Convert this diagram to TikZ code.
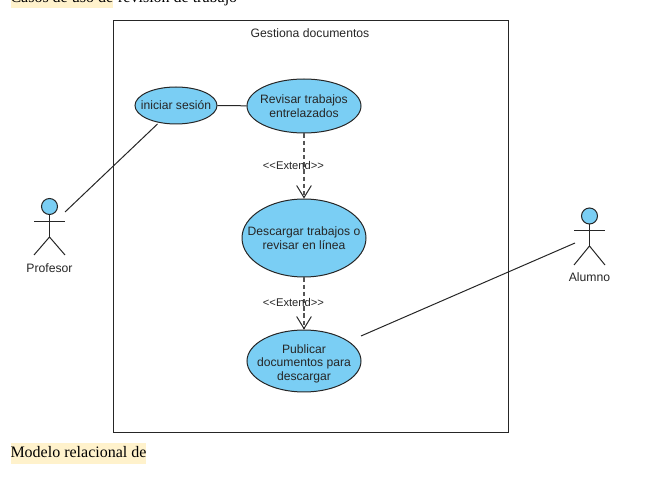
\documentclass[tikz,border=0pt]{standalone}
\usepackage{fontspec}
\setmainfont{Liberation Serif}
\newfontfamily\umlfont{Liberation Sans}
\usetikzlibrary{arrows.meta,shapes.geometric}
\definecolor{usecasefill}{HTML}{7ACEF4}
\definecolor{markfill}{HTML}{FFF2CC}
\definecolor{umlline}{HTML}{262626}
\definecolor{dashline}{HTML}{555555}
\tikzset{
  usecase/.style={draw=umlline,ellipse,fill=usecasefill,inner ysep=0pt,inner xsep=-16pt,align=center,text=umlline,font=\umlfont\fontsize{9.1}{10.3}\selectfont},
  umltext/.style={inner sep=0pt,text=umlline,font=\umlfont\fontsize{9.15}{11}\selectfont},
  smalltext/.style={inner sep=0pt,text=umlline,font=\umlfont\fontsize{8.4}{10}\selectfont},
  pagetext/.style={inner sep=0pt,anchor=base west,font=\fontsize{12}{14}\selectfont,text height=11.25pt,text depth=4.5pt},
  marked/.style={pagetext,fill=markfill},
  head/.style={draw=umlline,circle,fill=usecasefill,minimum size=12pt,inner sep=0pt},
  extendline/.style={draw=dashline,line width=1pt,dash pattern=on 3.3pt off 2.1pt,-{Straight Barb[length=9pt,width=11pt,line width=.75pt,color=umlline]}}
}
\begin{document}
\begin{tikzpicture}[x=.75pt,y=-.75pt,line width=.75pt]
\useasboundingbox (0,0) rectangle (647,488);
\node (casos) at (10,3) [marked,text depth=3.75pt] {Casos de uso de};
\node (revision) at (casos.base east) [pagetext] {~revisión de trabajo};
\node (modelo) at (10,458) [marked] {Modelo relacional de};
\node (frame) at (310.5,227) [draw=umlline,rectangle,minimum width=296.25pt,minimum height=309pt] {};
\node (title) at (310,33.5) [umltext] {Gestiona documentos};
\node (iniciar) at (176,105.5) [usecase,minimum width=61.5pt,minimum height=27.75pt] {iniciar sesión};
\node (revisar) at (304,106) [usecase,minimum width=85.5pt,minimum height=40.5pt] {Revisar trabajos\\entrelazados};
\node (descargar) at (304,238) [usecase,minimum width=93pt,minimum height=58.5pt] {Descargar trabajos o\\revisar en línea};
\node (publicar) at (304,361) [usecase,minimum width=85.5pt,minimum height=46.5pt,inner ysep=-3pt] {\rule{0pt}{10.5pt}Publicar\\documentos para\\descargar};
\coordinate (iniciar-end) at (157.5,124);
\coordinate (publicar-end) at (361,336);
\node (profesor-head) at (49.5,206.5) [head] {};
\coordinate (profesor-hip) at (49.5,237);
\coordinate (profesor-left) at (34,222);
\coordinate (profesor-right) at (65,222);
\coordinate (profesor-lfoot) at (34,255);
\coordinate (profesor-rfoot) at (65,255);
\coordinate (profesor-end) at (65,212);
\node (profesor) at (49.5,268) [umltext] {Profesor};
\node (alumno-head) at (589.5,216) [head] {};
\coordinate (alumno-hip) at (589.5,246);
\coordinate (alumno-left) at (574,231);
\coordinate (alumno-right) at (605,231);
\coordinate (alumno-lfoot) at (574,265);
\coordinate (alumno-rfoot) at (605,265);
\coordinate (alumno-end) at (575,243);
\node (alumno) at (589.5,277.5) [umltext] {Alumno};
\draw[umlline] (profesor-head) -- (profesor-hip);
\draw[umlline] (profesor-left) -- (profesor-right);
\draw[umlline] (profesor-lfoot) -- (profesor-hip) -- (profesor-rfoot);
\draw[umlline] (alumno-head) -- (alumno-hip);
\draw[umlline] (alumno-left) -- (alumno-right);
\draw[umlline] (alumno-lfoot) -- (alumno-hip) -- (alumno-rfoot);
\draw[umlline] (profesor-end) -- (iniciar-end);
\draw[umlline] (iniciar) -- (revisar);
\draw[umlline] (alumno-end) -- (publicar-end);
\draw[extendline] (revisar) -- node[pos=.5,xshift=-7.9pt,yshift=.35pt,smalltext] (extend-top) {<<Extend>>} (descargar);
\draw[extendline] (descargar) -- node[pos=.5,xshift=-7.9pt,yshift=.7pt,smalltext] (extend-bottom) {<<Extend>>} (publicar);
\end{tikzpicture}
\end{document}
